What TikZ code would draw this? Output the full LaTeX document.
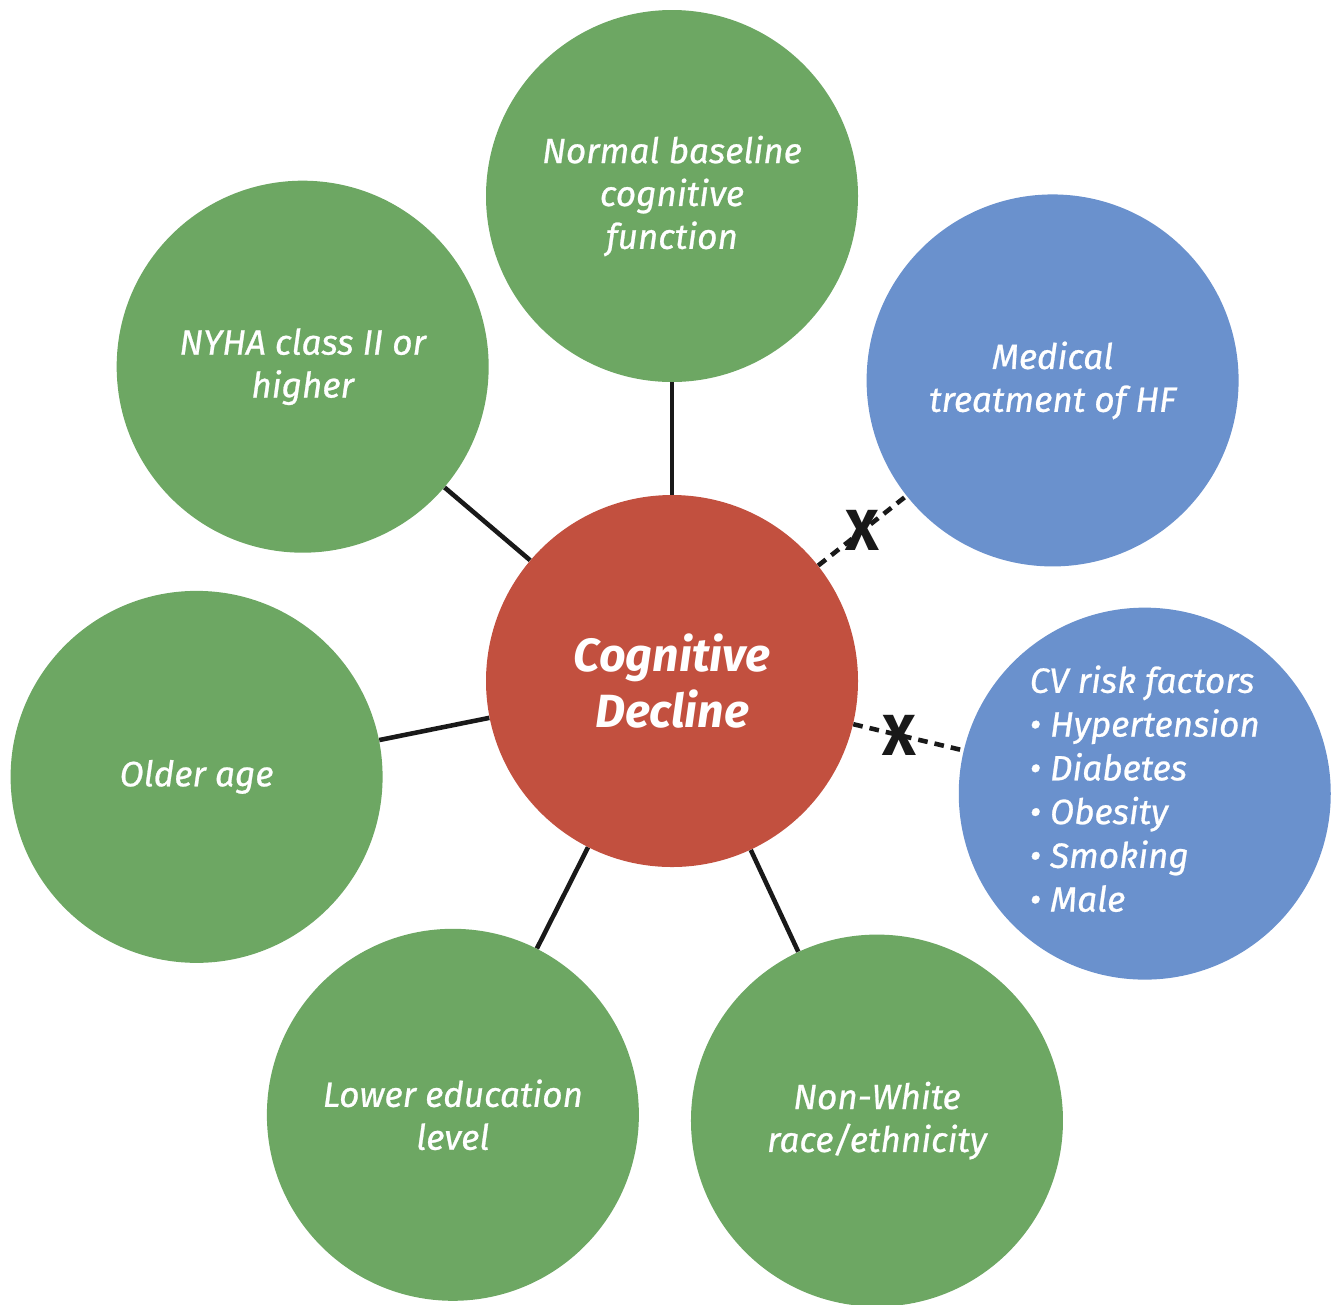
\documentclass[tikz,border=0pt]{standalone}
\usepackage{fontspec}
\setmainfont{Fira Sans}
\newfontfamily\factorfont{Fira Sans}[FakeBold=0.7]
\usepackage{tikz}
\usetikzlibrary{positioning, calc}

\definecolor{factorgreen}{HTML}{6DA763}
\definecolor{factorblue}{HTML}{6A91CD}
\definecolor{declinered}{HTML}{C2503F}

\begin{document}
\begin{tikzpicture}[
        factor/.style={circle, minimum size=7.44cm, inner sep=0pt, align=center, text=white, font=\fontsize{20}{24.4}\selectfont\factorfont\itshape},
        core/.style={circle, fill=declinered, minimum size=7.44cm, inner sep=0pt, align=center, text=white, font=\fontsize{26.5}{32.3}\selectfont\bfseries\itshape},
        link/.style={line width=2.6pt, black!90},
        nolink/.style={link, dash pattern=on 5.5pt off 4pt},
        cross/.style={font=\fontsize{33}{33}\selectfont\bfseries, text=black!90, inner sep=0pt}
    ]
        \useasboundingbox (0,0) rectangle (26.8,-26.08);

        \node[core] (cd) at (13.44,-13.62) {Cognitive\\Decline};

        \node[factor, fill=factorgreen] (base) at ($(cd)+(90:9.7)$) {Normal baseline\\cognitive\\function};
        \node[factor, fill=factorgreen] (nyha) at ($(cd)+(139.6:9.7)$) {NYHA class II or\\higher};
        \node[factor, fill=factorblue] (med) at ($(cd)+(38.3:9.7)$) {Medical\\treatment of HF};
        \node[factor, fill=factorgreen] (age) at ($(cd)+(191.4:9.7)$) {Older age};
        \node[factor, fill=factorblue] (cv) at ($(cd)+(-13.4:9.72)$) {\begin{tabular}{@{}l@{}}CV risk factors\\[0.5pt]%
            \textbullet\ Hypertension\\[0.5pt]\textbullet\ Diabetes\\[0.5pt]\textbullet\ Obesity\\[0.5pt]\textbullet\ Smoking\\[0.5pt]\textbullet\ Male\end{tabular}};
        \node[factor, fill=factorgreen] (edu) at ($(cd)+(243.2:9.72)$) {Lower education\\level};
        \node[factor, fill=factorgreen] (race) at ($(cd)+(295:9.7)$) {Non-White\\race/ethnicity};

        % solid links to the green factors
        \foreach \f in {base, nyha, age, edu, race}
            \draw[link] (cd) -- (\f);

        % crossed-out links to the blue factors
        \draw[nolink] (cd) -- node[cross] {X} (med);
        \draw[nolink] (cd) -- node[cross, pos=0.42] {X} (cv);
    \end{tikzpicture}
\end{document}
